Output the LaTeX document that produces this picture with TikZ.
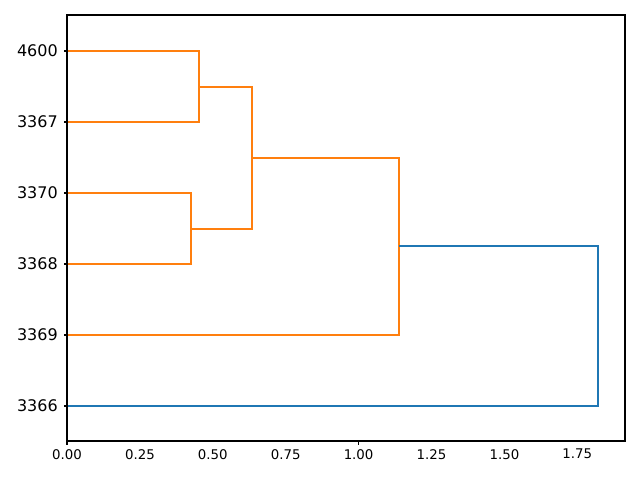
\documentclass[tikz,border=0pt]{standalone}
\usepackage{fontspec}
\setmainfont{DejaVu Sans}
\definecolor{mplorange}{HTML}{FF7F0E}
\definecolor{mplblue}{HTML}{1F77B4}
\begin{document}
\begin{tikzpicture}[x=0.75pt,y=-0.75pt,
  link/.style={line width=1.5pt,line cap=butt,line join=miter},
  olink/.style={link,draw=mplorange},
  blink/.style={link,draw=mplblue},
  spine/.style={line width=0.8pt,draw=black},
  ylab/.style={anchor=east,font=\fontsize{12pt}{14pt}\selectfont,inner sep=0pt},
  xlab/.style={anchor=north,font=\fontsize{10pt}{12pt}\selectfont,inner sep=0pt},
  tick/.style={line width=0.8pt}]
\useasboundingbox (0,0) rectangle (640,480);
% leaves
\foreach \n/\y in {4600/51,3367/122,3370/193,3368/264,3369/335,3366/406}{
  \coordinate (L\n) at (67,\y);
  \coordinate (T\n) at (63.5,\y);
  \draw[tick] (67,\y) -- (T\n);
  \node[ylab] (lab\n) at (58,\y) {\n};
}
% merge points
\coordinate (a1) at (199,51);   \coordinate (a2) at (199,122);  \coordinate (am) at (199,86.5);
\coordinate (b1) at (190.7,193);\coordinate (b2) at (190.7,264);\coordinate (bm) at (190.7,228.5);
\coordinate (c1) at (251.7,86.5);\coordinate (c2) at (251.7,228.5);\coordinate (cm) at (251.7,157.5);
\coordinate (d1) at (399,157.5);\coordinate (d2) at (399,335); \coordinate (dm) at (399,246.2);
\coordinate (e1) at (598,246.2);\coordinate (e2) at (598,406);
% links
\draw[olink] (L4600) -- (a1) -- (a2) -- (L3367);
\draw[olink] (L3370) -- (b1) -- (b2) -- (L3368);
\draw[olink] (am) -- (c1) -- (c2) -- (bm);
\draw[olink] (cm) -- (d1) -- (d2) -- (L3369);
\draw[blink] (dm) -- (e1) -- (e2) -- (L3366);
% axes frame
\draw[spine] (67,15) rectangle (625,441);
% x ticks
\foreach \v/\t in {0/0.00,0.25/0.25,0.5/0.50,0.75/0.75,1/1.00,1.25/1.25,1.5/1.50,1.75/1.75}{
  \pgfmathsetmacro{\xx}{67+291.6*\v}
  \coordinate (xt\v) at (\xx,441);
  \draw[tick] (xt\v) -- ++(0,3.5);
  \node[xlab] (xl\v) at (\xx,449) {\t};
}
\end{tikzpicture}
\end{document}
